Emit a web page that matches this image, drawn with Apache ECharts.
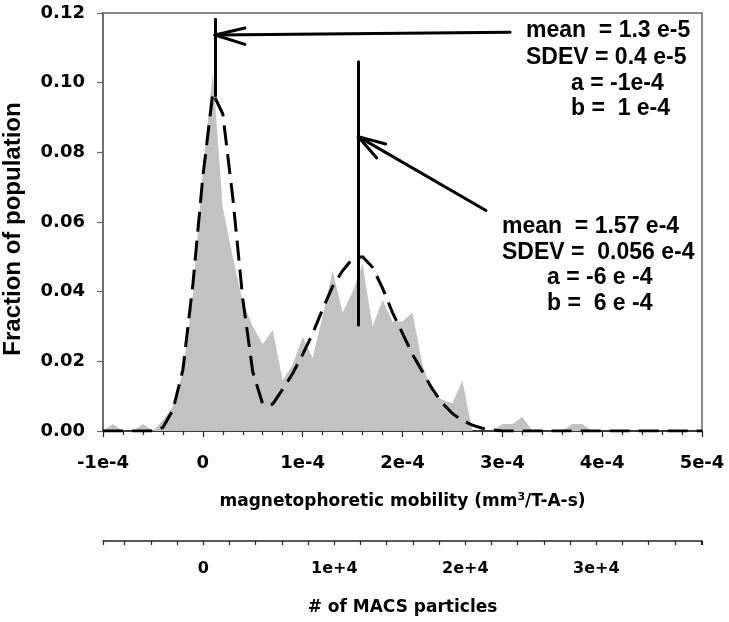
<!DOCTYPE html>
<html><head><meta charset="utf-8">
<script src="https://cdn.jsdelivr.net/npm/echarts@6/dist/echarts.min.js"></script>
<style>html,body{margin:0;padding:0;background:#fff}#c{width:729px;height:622px}</style>
</head><body><div id="c"></div>
<script>
// mobility in units of 1e-5 mm^3/T-A-s
const mobilityE5 = [-10,-9,-8,-7,-6,-5,-4,-3,-2,-1,0,1,2,3,4,5,6,7,8,9,10,11,12,13,14,15,16,17,18,19,20,21,22,23,24,25,26,27,28,29,30,31,32,33,34,35,36,37,38,39,40,41,42,43,44,45,46,47,48,49,50];
const fraction = [0,0.002,0,0,0.002,0,0.003,0.007,0.017,0.039,0.075,0.103,0.064,0.050,0.037,0.030,0.025,0.029,0.0146,0.019,0.027,0.021,0.033,0.046,0.034,0.040,0.048,0.030,0.0376,0.0314,0.0314,0.034,0.019,0.011,0.009,0.008,0.0145,0,0,0,0.002,0.002,0.004,0,0,0,0,0.002,0.002,0,0,0,0,0,0,0,0,0,0,0,0];
const fitCurve = [0,0,0,0,0,0,0.001,0.006,0.0175,0.042,0.073,0.097,0.091,0.067,0.038,0.017,0.0077,0.0077,0.012,0.0165,0.022,0.028,0.035,0.0415,0.046,0.0495,0.050,0.047,0.041,0.034,0.028,0.022,0.017,0.012,0.008,0.005,0.003,0.0017,0.0008,0.0003,0,0,0,0,0,0,0,0,0,0,0,0,0,0,0,0,0,0,0,0,0];

const xTicks = [-10,0,10,20,30,40,50];
const xTickLabels = ['-1e-4','0','1e-4','2e-4','3e-4','4e-4','5e-4'];
const yTickLabels = ['0.00','0.02','0.04','0.06','0.08','0.10','0.12'];
const particleTicks = [0,10000,20000,30000];
const particleTickLabels = ['0','1e+4','2e+4','3e+4'];
const particleRange = [-7656, 38069];

// annotation segments [x(1e-5 units), y]
const annotationSegments = [
  [[30.77,0.1145],[1.22,0.1137]],
  [[1.22,0.1137],[4.22,0.1157]],
  [[1.22,0.1137],[4.22,0.1110]],
  [[1.22,0.1182],[1.22,0.0962]],
  [[15.57,0.1060],[15.57,0.0304]],
  [[28.36,0.0633],[15.57,0.0845]],
  [[15.57,0.0845],[18.32,0.0824]],
  [[15.57,0.0845],[17.42,0.0784]]
];
const block1 = ['mean  = 1.3 e-5','SDEV = 0.4 e-5','a = -1e-4','b =  1 e-4'];
const block2 = ['mean  = 1.57 e-4','SDEV =  0.056 e-4','a = -6 e -4','b =  6 e -4'];

const chart = echarts.init(document.getElementById('c'), null, {renderer:'canvas'});
const axFont = 'DejaVu Sans';
const annFont = 'bold 23px "Liberation Sans", Arial, sans-serif';
function textEl(str, x, y){
  return {type:'text', x:x, y:y, silent:true, z:100,
    style:{text:str, font:annFont, fill:'#000', textAlign:'left', textVerticalAlign:'middle', align:'left', verticalAlign:'middle'}};
}
const graphics = [];
[[526,31],[526,58],[571,84],[571,109]].forEach((p,i)=>graphics.push(textEl(block1[i],p[0],p[1])));
[[502,227],[502,253],[547,278],[547,304]].forEach((p,i)=>graphics.push(textEl(block2[i],p[0],p[1])));

chart.setOption({
  animation:false,
  backgroundColor:'#fff',
  grid:[
    {left:103, top:13, width:599, height:418, show:true, borderColor:'#666', borderWidth:1.5, backgroundColor:'transparent', containLabel:false, outerBoundsMode:'none'},
    {left:103, top:540, width:599, height:1, containLabel:false, outerBoundsMode:'none'}
  ],
  xAxis:[
    {gridIndex:0, type:'value', min:-10, max:50, interval:10,
     axisLine:{show:true, onZero:false, lineStyle:{color:'#222', width:1.5}},
     axisTick:{show:true, length:6, inside:false, lineStyle:{color:'#222', width:1.2}},
     minorTick:{show:true, splitNumber:5, length:4, lineStyle:{color:'#222', width:1.2}},
     splitLine:{show:false}, minorSplitLine:{show:false},
     axisLabel:{margin:23, color:'#000', fontFamily:axFont, fontWeight:'bold', fontSize:18,
       formatter:v=>{const i=xTicks.indexOf(Math.round(v)); return i>=0?xTickLabels[i]:'';}},
     name:'{a|magnetophoretic mobility (mm}{s|3}{a|/T-A-s)}', nameLocation:'middle', nameGap:61,
     nameTextStyle:{rich:{
       a:{fontFamily:axFont, fontWeight:'bold', fontSize:17, color:'#000', lineHeight:20},
       s:{fontFamily:axFont, fontWeight:'bold', fontSize:11, color:'#000', verticalAlign:'top', lineHeight:20}
     }}
    },
    {gridIndex:1, type:'value', min:particleRange[0], max:particleRange[1], position:'bottom',
     axisLine:{show:true, onZero:false, lineStyle:{color:'#222', width:1.5}},
     axisTick:{show:true, length:4, inside:false, lineStyle:{color:'#222', width:1.2}},
     minorTick:{show:true, splitNumber:5, length:4, lineStyle:{color:'#222', width:1.2}},
     splitLine:{show:false}, minorSplitLine:{show:false},
     axisLabel:{margin:20, color:'#000', fontFamily:axFont, fontWeight:'bold', fontSize:16, showMinLabel:false, showMaxLabel:false,
       formatter:v=>{const i=particleTicks.indexOf(Math.round(v)); return i>=0?particleTickLabels[i]:'';}},
     name:'# of MACS particles', nameLocation:'middle', nameGap:58,
     nameTextStyle:{fontFamily:axFont, fontWeight:'bold', fontSize:17, color:'#000'}
    }
  ],
  yAxis:[
    {gridIndex:0, type:'value', min:0, max:0.12, interval:0.02,
     axisLine:{show:true, onZero:false, lineStyle:{color:'#666', width:1.5}},
     axisTick:{show:true, length:6, inside:false, lineStyle:{color:'#666', width:1.2}},
     splitLine:{show:false},
     axisLabel:{margin:18, color:'#000', fontFamily:axFont, fontWeight:'bold', fontSize:18,
       formatter:v=>yTickLabels[Math.round(v/0.02)]},
     name:'Fraction of population', nameLocation:'middle', nameRotate:90, nameGap:78,
     nameTextStyle:{fontFamily:'Liberation Sans', fontWeight:'bold', fontSize:24, color:'#000', padding:[0,14,0,0]}
    },
    {gridIndex:1, type:'value', min:0, max:1, show:false}
  ],
  graphic:graphics,
  series:[
    {type:'line', xAxisIndex:0, yAxisIndex:0, data:mobilityE5.map((x,i)=>[x,fraction[i]]),
     symbol:'none', lineStyle:{width:0, opacity:0}, areaStyle:{color:'#c2c2c2', opacity:1}, z:2, silent:true},
    {type:'line', xAxisIndex:0, yAxisIndex:0, data:mobilityE5.map((x,i)=>[x,fitCurve[i]]),
     symbol:'none', lineStyle:{color:'#000', width:3, type:[20,9]}, z:3, silent:true,
     markLine:{silent:true, symbol:['none','none'], label:{show:false}, animation:false,
       lineStyle:{color:'#000', width:3, type:'solid', cap:'round'},
       emphasis:{disabled:true},
       data:annotationSegments.map(s=>[{coord:s[0]},{coord:s[1]}])}
    },
    {type:'line', xAxisIndex:1, yAxisIndex:1, data:[], silent:true}
  ]
});
</script>
</body></html>
